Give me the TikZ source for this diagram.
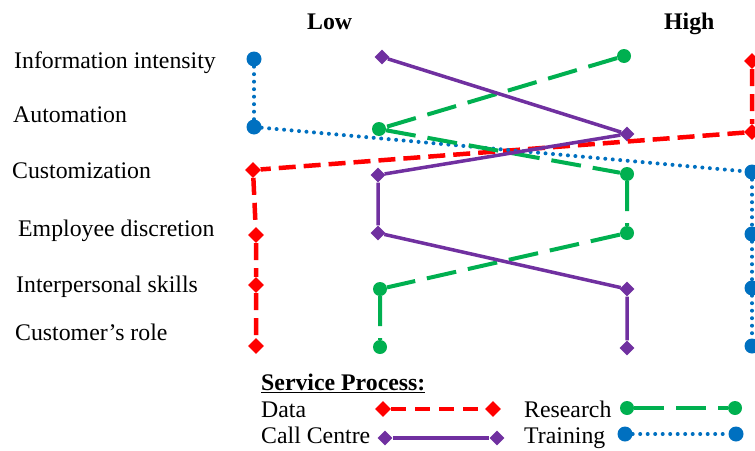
\documentclass[tikz,border=0pt]{standalone}
\usepackage{fontspec}
\setmainfont{Liberation Serif}
\usepackage{tikz}
\usetikzlibrary{shapes.geometric}
\definecolor{datared}{RGB}{255, 0, 0}
\definecolor{callpurple}{RGB}{112, 48, 160}
\definecolor{resgreen}{RGB}{0, 176, 80}
\definecolor{trainblue}{RGB}{0, 112, 192}
\tikzset{
  datamark/.style={diamond, fill=datared, inner sep=0pt, minimum size=16pt},
  callmark/.style={diamond, fill=callpurple, inner sep=0pt, minimum size=15pt},
  resmark/.style={circle, fill=resgreen, inner sep=0pt, minimum size=14pt},
  trainmark/.style={circle, fill=trainblue, inner sep=0pt, minimum size=15pt},
  dataline/.style={datared, line width=4.5pt, dash pattern=on 17pt off 8pt},
  callline/.style={callpurple, line width=3.5pt},
  resline/.style={resgreen, line width=4pt, dash pattern=on 30pt off 12pt},
  trainline/.style={trainblue, line width=4pt, line cap=round, dash pattern=on 0pt off 7.5pt},
  lbl/.style={anchor=base west, inner sep=0pt, font=\fontsize{23.8}{28}\selectfont}
}

\begin{document}
\begin{tikzpicture}[x=1pt, y=-1pt]
\useasboundingbox (0,0) rectangle (755,450);
\clip (0,0) rectangle (755,450);

% Scale ends
\node[lbl, font=\fontsize{23.8}{28}\selectfont\bfseries] (low) at (307,29) {Low};
\node[lbl, font=\fontsize{23.8}{28}\selectfont\bfseries] (high) at (664,29) {High};

% Dimensions
\node[lbl] (infoint) at (14,68) {Information intensity};
\node[lbl] (autom) at (13,122) {Automation};
\node[lbl] (custom) at (12,178) {Customization};
\node[lbl] (empdisc) at (18,236) {Employee discretion};
\node[lbl] (interp) at (16,292) {Interpersonal skills};
\node[lbl] (custrole) at (15,340) {Customer’s role};

% Markers
\foreach \n/\x/\y in {1/752/61, 2/752/132, 3/253/170, 4/256/235, 5/256/285, 6/256/346}
  \node[datamark] (d\n) at (\x,\y) {};
\foreach \n/\x/\y in {1/382/57, 2/627/134, 3/378/175, 4/378/233, 5/627/289, 6/627/348}
  \node[callmark] (c\n) at (\x,\y) {};
\foreach \n/\x/\y in {1/624/56, 2/379/129, 3/627/174, 4/627/233, 5/380/289, 6/380/347}
  \node[resmark] (r\n) at (\x,\y) {};
\foreach \n/\x/\y in {1/254/59, 2/254/127, 3/752/172, 4/752/234, 5/752/288, 6/752/346}
  \node[trainmark] (t\n) at (\x,\y) {};

% Profiles
\draw[dataline] (d1) -- (d2) -- (d3) -- (d4) -- (d5) -- (d6);
\draw[trainline] (t1) -- (t2) -- (t3) -- (t4) -- (t5) -- (t6);
\draw[resline] (r1) -- (r2) -- (r3) -- (r4) -- (r5) -- (r6);
\draw[callline] (c1) -- (c2) -- (c3) -- (c4) -- (c5) -- (c6);

% Legend
\node[lbl, font=\fontsize{23.8}{28}\selectfont\bfseries] (legtitle) at (261,390) {\underline{Service Process:}};
\node[lbl] (legdata) at (261,417) {Data};
\node[lbl] (legcall) at (261,443) {Call Centre};
\node[lbl] (legres) at (524,417) {Research};
\node[lbl] (legtrain) at (524,443) {Training};

\node[datamark] (dl1) at (383,409) {};
\node[datamark] (dl2) at (493,409) {};
\draw[dataline, dash pattern=on 15pt off 9pt] (dl1) -- (dl2);
\node[callmark] (cl1) at (385,438) {};
\node[callmark] (cl2) at (497,438) {};
\draw[callline] (cl1) -- (cl2);
\node[resmark] (rl1) at (627,408) {};
\node[resmark] (rl2) at (735,408) {};
\draw[resline] (rl1) -- (rl2);
\node[trainmark] (tl1) at (625,434) {};
\node[trainmark] (tl2) at (736,434) {};
\draw[trainline] (tl1) -- (tl2);
\end{tikzpicture}
\end{document}
